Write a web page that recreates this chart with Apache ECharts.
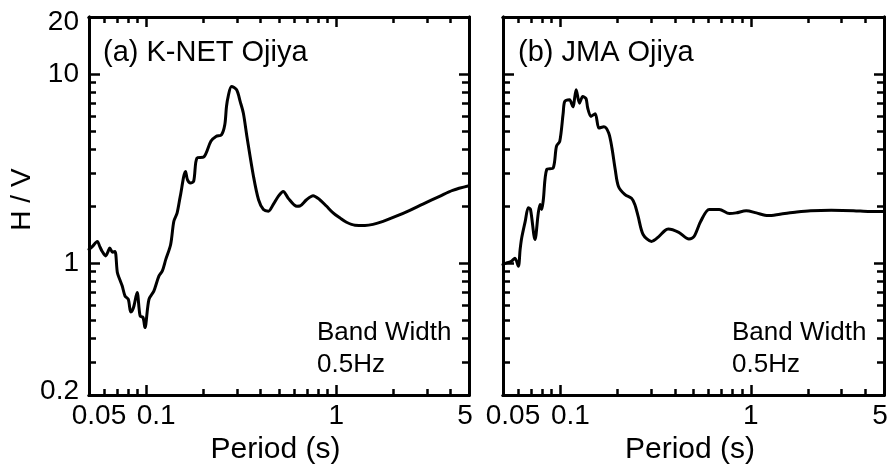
<!DOCTYPE html>
<html><head><meta charset="utf-8">
<script src="https://cdn.jsdelivr.net/npm/echarts@6/dist/echarts.min.js"></script>
<style>html,body{margin:0;padding:0;background:#fff}#c{width:892px;height:470px}</style>
</head><body><div id="c"></div>
<script>
// ---- data (period in s, H/V ratio) ----
const periodA = [0.0500,0.0520,0.0553,0.0570,0.0587,0.0612,0.0630,0.0643,0.0665,0.0685,0.0705,0.0725,0.0748,0.0774,0.0805,0.0829,0.0845,0.0862,0.0896,0.0929,0.0962,0.0985,0.1034,0.1097,0.1166,0.1216,0.1268,0.1345,0.1398,0.1455,0.1511,0.1611,0.1650,0.1711,0.1778,0.1851,0.2012,0.2190,0.2330,0.2489,0.2592,0.2645,0.2700,0.2813,0.2992,0.3122,0.3245,0.3389,0.3671,0.3902,0.4140,0.4397,0.4667,0.4955,0.5263,0.5590,0.6205,0.6438,0.6980,0.7559,0.8197,0.8879,0.9633,1.044,1.133,1.255,1.417,1.562,1.765,2.07,2.44,2.86,3.5,4.1,5.0];
const hvA     = [1.18,1.22,1.30,1.22,1.15,1.09,1.15,1.20,1.14,1.15,0.89,0.82,0.755,0.668,0.642,0.55,0.56,0.592,0.697,0.524,0.515,0.455,0.642,0.71,0.852,0.908,1.044,1.253,1.663,1.841,2.25,3.05,2.75,2.65,2.71,3.59,3.64,4.40,4.67,4.76,5.38,6.7,7.59,8.58,8.24,7.15,6.21,4.67,2.87,2.16,1.917,1.88,2.04,2.25,2.39,2.20,1.995,2.0,2.16,2.27,2.16,2.0,1.84,1.733,1.642,1.584,1.58,1.60,1.66,1.767,1.90,2.05,2.25,2.42,2.56];
const periodB = [0.0500,0.0522,0.0553,0.0578,0.0602,0.0615,0.0627,0.0654,0.0679,0.0697,0.0736,0.0766,0.0783,0.0798,0.0814,0.0848,0.0917,0.0954,0.0993,0.1035,0.1055,0.1118,0.1163,0.1211,0.1260,0.1311,0.1364,0.1392,0.1448,0.1523,0.1596,0.1693,0.1794,0.1866,0.1941,0.2019,0.2185,0.2364,0.2460,0.2559,0.2719,0.3009,0.3265,0.3543,0.3687,0.4185,0.4732,0.5032,0.5457,0.6041,0.6827,0.7716,0.8370,0.9458,1.069,1.232,1.42,1.742,2.06,2.64,3.46,4.2,5.0];
const hvB     = [0.98,1.00,1.02,1.06,0.96,1.18,1.36,1.66,1.96,1.92,1.33,1.84,2.04,1.92,2.16,3.12,3.18,4.14,4.40,6.21,7.15,7.30,6.70,8.24,7.00,7.60,7.40,6.60,5.96,6.16,5.17,5.26,4.87,4.05,3.12,2.54,2.30,2.20,2.04,1.77,1.415,1.30,1.37,1.485,1.51,1.45,1.34,1.38,1.66,1.92,1.92,1.825,1.84,1.89,1.84,1.78,1.81,1.86,1.89,1.90,1.89,1.87,1.87];

const xRange = [0.05, 5];
const yRange = [0.2, 20];
const xLabelValues = [0.05, 0.1, 1, 5];
const xLabelTexts  = ['0.05', '0.1', '1', '5'];
const yLabelValues = [0.2, 1, 10, 20];
const yLabelTexts  = ['0.2', '1', '10', '20'];
const xMajorTicks = [0.1, 1];
const xMinorTicks = [0.06,0.07,0.08,0.09,0.2,0.3,0.4,0.5,0.6,0.7,0.8,0.9,2,3,4];
const yMajorTicks = [1, 10];
const yMinorTicks = [0.3,0.4,0.5,0.6,0.7,0.8,0.9,2,3,4,5,6,7,8,9];
const panelTitles = ['(a) K-NET Ojiya', '(b) JMA Ojiya'];
const noteLines = ['Band Width', '0.5Hz'];
const xName = 'Period (s)';
const yName = 'H / V';

// ---- build ----
const L = Math.log10;
const FONT = '"Liberation Sans", Arial, Helvetica, sans-serif';
const grids = [
  {left: 89, top: 17, width: 380, height: 379},
  {left: 503, top: 17, width: 381, height: 379}
];
const xLabelRich = ['s', 's', 'n', 'r'];
const yLabelRich = ['b', 'n', 'n', 't'];
const txt = {fontSize: 28, fontFamily: FONT, color: '#000'};
const xRich = {
  s: Object.assign({}, txt, {padding: [0, 0, 0, 20]}),
  n: Object.assign({}, txt),
  r: Object.assign({}, txt, {padding: [0, 8, 0, 0]})
};
const yRich = {
  t: Object.assign({}, txt, {padding: [10, 0, 0, 0]}),
  n: Object.assign({}, txt),
  b: Object.assign({}, txt, {padding: [0, 0, 8, 0]})
};
function findIdx(values, v) {
  for (let i = 0; i < values.length; i++) if (Math.abs(L(values[i]) - v) < 1e-6) return i;
  return -1;
}
function axisDef(kind, grid, pos, ticks, len, labels, name) {
  const range = kind === 'x' ? xRange : yRange;
  const a = {
    type: 'value', gridIndex: grid, position: pos,
    min: L(range[0]), max: L(range[1]),
    axisLine: {show: true, onZero: false, lineStyle: {color: '#000', width: 3}},
    axisTick: {show: true, inside: true, length: len, customValues: ticks.map(L),
               lineStyle: {color: '#000', width: 2.5}},
    axisLabel: {show: false},
    splitLine: {show: false}, minorTick: {show: false}, minorSplitLine: {show: false}
  };
  if (labels) {
    const vals = kind === 'x' ? xLabelValues : yLabelValues;
    const texts = kind === 'x' ? xLabelTexts : yLabelTexts;
    const richKeys = kind === 'x' ? xLabelRich : yLabelRich;
    a.axisLabel = {
      show: true, customValues: vals.map(L), margin: kind === 'x' ? 7 : 10,
      fontSize: 28, fontFamily: FONT, color: '#000',
      formatter: function (v) {
        const i = findIdx(vals, v);
        return i < 0 ? '' : '{' + richKeys[i] + '|' + texts[i] + '}';
      },
      rich: kind === 'x' ? xRich : yRich
    };
  }
  if (name) {
    a.name = name;
    a.nameLocation = 'middle';
    if (kind === 'x') {
      a.nameGap = 37;
      a.nameTextStyle = {fontSize: 30, fontFamily: FONT, color: '#000', padding: [0, 7, 0, 0]};
    } else {
      a.nameGap = 51;
      a.nameRotate = 90;
      a.nameTextStyle = {fontSize: 28, fontFamily: FONT, color: '#000', padding: [0, 0, 0, 13]};
    }
  }
  return a;
}
const xAxes = [], yAxes = [];
for (let g = 0; g < 2; g++) {
  xAxes.push(axisDef('x', g, 'bottom', xMajorTicks, 10, true, xName));
  xAxes.push(axisDef('x', g, 'bottom', xMinorTicks, 6, false, null));
  xAxes.push(axisDef('x', g, 'top', xMajorTicks, 10, false, null));
  xAxes.push(axisDef('x', g, 'top', xMinorTicks, 6, false, null));
  yAxes.push(axisDef('y', g, 'left', yMajorTicks, 11, g === 0, g === 0 ? yName : null));
  yAxes.push(axisDef('y', g, 'left', yMinorTicks, 7, false, null));
  yAxes.push(axisDef('y', g, 'right', yMajorTicks, 10, false, null));
  yAxes.push(axisDef('y', g, 'right', yMinorTicks, 7, false, null));
}
function toLog(xs, ys) { return xs.map((x, i) => [L(x), L(ys[i])]); }
const series = [
  {type: 'line', name: panelTitles[0], xAxisIndex: 0, yAxisIndex: 0, data: toLog(periodA, hvA)},
  {type: 'line', name: panelTitles[1], xAxisIndex: 4, yAxisIndex: 4, data: toLog(periodB, hvB)}
].map(s => Object.assign(s, {
  showSymbol: false, symbol: 'none', smooth: 0.3, animation: false,
  lineStyle: {color: '#000', width: 3, join: 'round', cap: 'round'}
}));
function textEl(str, x, y, size) {
  return {type: 'text', x: x, y: y, silent: true,
    style: {text: str, fontSize: size, fontFamily: FONT, fill: '#000',
            align: 'left', verticalAlign: 'middle', textAlign: 'left', textVerticalAlign: 'middle'}};
}
const graphic = [
  textEl(panelTitles[0], 103, 52.7, 29),
  textEl(panelTitles[1], 518, 52.7, 29),
  textEl(noteLines[0], 317, 332.7, 26),
  textEl(noteLines[1], 317, 365, 26),
  textEl(noteLines[0], 732, 332.7, 26),
  textEl(noteLines[1], 732, 365, 26)
];
const chart = echarts.init(document.getElementById('c'), null, {renderer: 'canvas'});
chart.setOption({
  animation: false,
  backgroundColor: '#fff',
  grid: grids,
  xAxis: xAxes,
  yAxis: yAxes,
  series: series,
  graphic: graphic
});
</script></body></html>
